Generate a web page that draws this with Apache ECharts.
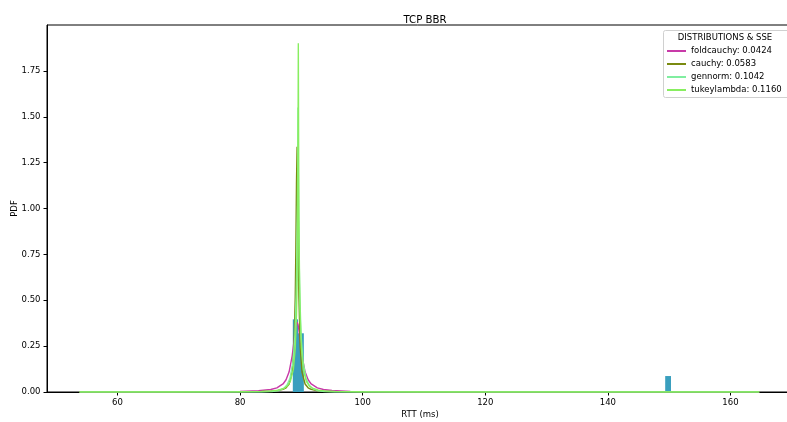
<!DOCTYPE html>
<html>
<head>
<meta charset="utf-8">
<script src="https://cdn.jsdelivr.net/npm/echarts@6/dist/echarts.min.js"></script>
<style>html,body{margin:0;padding:0;background:#fff}#c{width:787px;height:422px}</style>
</head>
<body>
<div id="c"></div>
<script>
const xTicks = [60, 80, 100, 120, 140, 160];
const yTicks = [0, 0.25, 0.5, 0.75, 1.0, 1.25, 1.5, 1.75];
const names = ['foldcauchy: 0.0424', 'cauchy: 0.0583', 'gennorm: 0.1042', 'tukeylambda: 0.1160'];
// histogram bins: [start, end, density]
const histBins = [
  [88.6, 89.45, 0.396],
  [89.45, 90.4, 0.32],
  [147.0, 147.9, 0.003],
  [149.35, 150.3, 0.087],
  [151.4, 152.3, 0.003]
];
const foldcauchyPts = [[53.8,0.0002],[60,0.0003],[70,0.0007],[75,0.0013],[80,0.003],[83,0.0065],[85,0.0137],[86,0.0226],[87,0.0438],[87.5,0.0667],[88,0.11],[88.5,0.197],[88.8,0.279],[89,0.336],[89.15,0.368],[89.3,0.38],[89.45,0.368],[89.6,0.336],[89.8,0.279],[90.1,0.197],[90.6,0.11],[91.1,0.0667],[91.6,0.0438],[92.6,0.0226],[93.6,0.0137],[95,0.0079],[98,0.0034],[100,0.0023],[105,0.0011],[110,0.0006],[120,0.0003],[130,0.00016],[140,0.0001],[150,0.00007],[164.7,0.00005]];
const cauchyPts = [[53.8,0.00006],[60,0.00009],[70,0.0002],[80,0.0009],[83,0.0019],[85,0.0041],[86,0.0069],[87,0.0142],[87.5,0.023],[88,0.0434],[88.5,0.109],[88.8,0.247],[89,0.516],[89.1,0.783],[89.2,1.135],[89.3,1.336],[89.4,1.135],[89.5,0.783],[89.6,0.516],[89.8,0.247],[90.1,0.109],[90.6,0.0434],[91.1,0.023],[91.6,0.0142],[92.6,0.0069],[93.6,0.0041],[95,0.0023],[100,0.0007],[110,0.0002],[120,0.00008],[140,0.00004],[164.7,0.00002]];
const gennormPts = [[53.8,0],[80,0],[83.45,0.0004],[85.15,0.0022],[86.15,0.0065],[87.15,0.02],[87.65,0.038],[88.15,0.075],[88.65,0.17],[88.95,0.31],[89.15,0.52],[89.25,0.7],[89.35,0.98],[89.4,1.2],[89.45,1.55],[89.5,1.2],[89.55,0.98],[89.65,0.7],[89.75,0.52],[89.95,0.31],[90.25,0.17],[90.75,0.075],[91.25,0.038],[91.75,0.02],[92.75,0.0065],[93.75,0.0022],[95.45,0.0004],[99.45,0],[164.7,0]];
const tukeylambdaPts = [[53.8,0.0001],[69.5,0.0003],[79.5,0.0012],[83.5,0.0033],[85.2,0.0063],[86.2,0.0105],[87.2,0.021],[87.7,0.033],[88.2,0.058],[88.7,0.125],[89,0.24],[89.2,0.42],[89.3,0.6],[89.4,0.95],[89.45,1.35],[89.5,1.9],[89.55,1.35],[89.6,0.95],[89.7,0.6],[89.8,0.42],[90,0.24],[90.3,0.125],[90.8,0.058],[91.3,0.033],[91.8,0.021],[92.8,0.0105],[93.8,0.0063],[95.5,0.0033],[99.5,0.0012],[109.5,0.0003],[124.5,0.0001],[164.7,0.00002]];

const colors = ['#c83aa8', '#7a8a10', '#80eea0', '#88ee60'];
const FONT = 'DejaVu Sans';
const chart = echarts.init(document.getElementById('c'), null, {renderer: 'canvas'});

function lineSeries(name, pts, color) {
  return {
    name: name, type: 'line', data: pts, symbol: 'none', showSymbol: false,
    lineStyle: {color: color, width: 1.4}, itemStyle: {color: color},
    animation: false, z: 3
  };
}

chart.setOption({
  animation: false,
  title: {
    text: 'TCP BBR', left: 420, top: 10, textAlign: 'center',
    textStyle: {fontFamily: FONT, fontSize: 10.2, fontWeight: 'normal', color: '#000'}
  },
  grid: {left: 47, top: 25, right: -6, bottom: 30, outerBoundsMode: 'none', containLabel: false,
    show: true, borderColor: '#000', borderWidth: 1, backgroundColor: 'transparent'},
  xAxis: {
    type: 'value', min: 48.5, max: 170.2,
    name: 'RTT (ms)', nameLocation: 'middle', nameGap: 18.5, nameMoveOverlap: false,
    nameTextStyle: {fontFamily: FONT, fontSize: 8.5, color: '#000'},
    axisLine: {show: true, onZero: false, lineStyle: {color: '#000', width: 1}},
    axisTick: {show: true, length: 3.5, customValues: xTicks, lineStyle: {color: '#000'}},
    axisLabel: {customValues: xTicks, margin: 6, fontFamily: FONT, fontSize: 8.5, color: '#000'},
    splitLine: {show: false}
  },
  yAxis: {
    type: 'value', min: 0, max: 2.0,
    name: 'PDF', nameLocation: 'middle', nameGap: 28, nameMoveOverlap: false,
    nameTextStyle: {fontFamily: FONT, fontSize: 8.5, color: '#000'},
    axisLine: {show: true, lineStyle: {color: '#000', width: 1}},
    axisTick: {show: true, length: 3.5, customValues: yTicks, lineStyle: {color: '#000'}},
    axisLabel: {customValues: yTicks, margin: 6.5, fontFamily: FONT, fontSize: 8.5, color: '#000',
      formatter: v => v.toFixed(2)},
    splitLine: {show: false}
  },
  legend: {
    data: names, orient: 'vertical', left: 667, top: 45.5, itemGap: 2, padding: 0,
    itemWidth: 19, itemHeight: 2, icon: 'rect',
    textStyle: {fontFamily: FONT, fontSize: 8.5, color: '#000', lineHeight: 11},
    selectedMode: false, z: 20
  },
  graphic: [
    {type: 'rect', left: 663, top: 30, z: 15, shape: {width: 126, height: 67, r: 2},
      style: {fill: 'rgba(255,255,255,0.85)', stroke: '#d0d0d0', lineWidth: 1}},
    {type: 'text', x: 725, y: 37.5, z: 16,
      style: {text: 'DISTRIBUTIONS & SSE', fontFamily: FONT, fontSize: 8.5, fill: '#000', textAlign: 'center', textVerticalAlign: 'middle'}}
  ],
  series: [
    {
      type: 'custom', name: 'hist', data: histBins, encode: {x: [0, 1], y: 2}, z: 2,
      renderItem: function (params, api) {
        const a = api.coord([api.value(0), api.value(2)]);
        const b = api.coord([api.value(1), 0]);
        return {type: 'rect', shape: {x: a[0], y: a[1], width: b[0] - a[0], height: b[1] - a[1]},
          style: {fill: '#3a9fbe'}};
      }
    },
    lineSeries(names[0], foldcauchyPts, colors[0]),
    lineSeries(names[1], cauchyPts, colors[1]),
    lineSeries(names[2], gennormPts, colors[2]),
    lineSeries(names[3], tukeylambdaPts, colors[3])
  ]
});
</script>
</body>
</html>
